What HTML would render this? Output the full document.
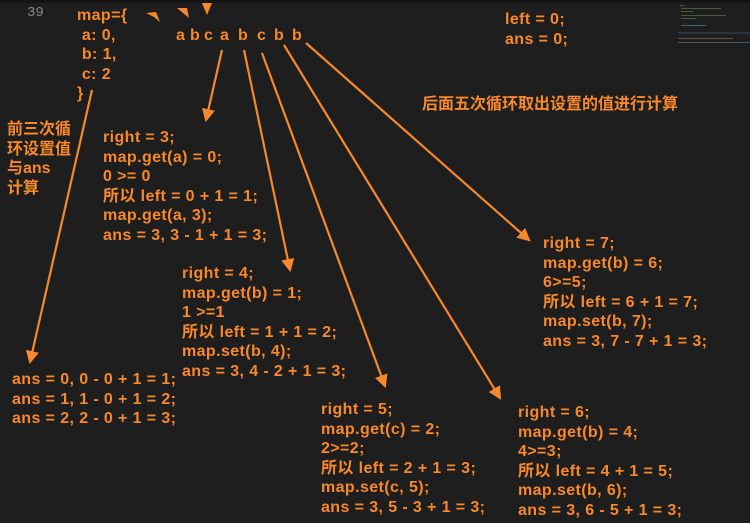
<!DOCTYPE html>
<html><head><meta charset="utf-8"><style>
body{margin:0;width:750px;height:523px;background:#1e1e1e;overflow:hidden;position:relative;font-family:"Liberation Sans","Noto Sans CJK SC",sans-serif;}
.t{position:absolute;color:#f7882b;font-weight:bold;font-size:16px;letter-spacing:0.4px;line-height:19.5px;white-space:pre;}
.c{position:absolute;color:#f7882b;font-weight:bold;font-size:16px;top:26px;line-height:19.5px;}
.top{position:absolute;left:0;top:0;width:750px;height:3px;background:#141414;}
.ln{position:absolute;left:27px;top:5px;color:#8a8a8a;font-family:"Liberation Mono",monospace;font-size:14px;}
.mm{position:absolute;height:1px;background:#4a5a40;}
</style></head><body>
<div class="top"></div>
<div class="ln">39</div>
<div class="mm" style="left:680px;top:5px;width:4px"></div>
<div class="mm" style="left:681px;top:8px;width:40px"></div>
<div class="mm" style="left:681px;top:11px;width:12px"></div>
<div class="mm" style="left:681px;top:15px;width:45px"></div>
<div class="mm" style="left:681px;top:18px;width:15px"></div>
<div class="mm" style="left:681px;top:25px;width:25px;background:#3a6a70"></div>
<div class="mm" style="left:678px;top:32px;width:72px;height:2px;background:#2a3440"></div>
<div class="mm" style="left:678px;top:38px;width:55px;background:#5a5050"></div>
<div class="mm" style="left:678px;top:42px;width:72px;background:#4a5a5a"></div>
<div class="t" style="left:77px;top:6px">map={
 a: 0,
 b: 1,
 c: 2
}</div>
<div class="c" style="left:176px">a</div>
<div class="c" style="left:190px">b</div>
<div class="c" style="left:204px">c</div>
<div class="c" style="left:220px">a</div>
<div class="c" style="left:238px">b</div>
<div class="c" style="left:257px">c</div>
<div class="c" style="left:274px">b</div>
<div class="c" style="left:292px">b</div>
<div class="t" style="left:505px;top:10px">left = 0;
ans = 0;</div>
<div class="t" style="left:422px;top:95px;letter-spacing:0">后面五次循环取出设置的值进行计算</div>
<div class="t" style="left:7px;top:120px;letter-spacing:0">前三次循
环设置值
与ans
计算</div>
<div class="t" style="left:103px;top:128px">right = 3;
map.get(a) = 0;
0 >= 0
所以 left = 0 + 1 = 1;
map.get(a, 3);
ans = 3, 3 - 1 + 1 = 3;</div>
<div class="t" style="left:182px;top:264px">right = 4;
map.get(b) = 1;
1 >=1
所以 left = 1 + 1 = 2;
map.set(b, 4);
ans = 3, 4 - 2 + 1 = 3;</div>
<div class="t" style="left:12px;top:370px">ans = 0, 0 - 0 + 1 = 1;
ans = 1, 1 - 0 + 1 = 2;
ans = 2, 2 - 0 + 1 = 3;</div>
<div class="t" style="left:321px;top:400px">right = 5;
map.get(c) = 2;
2>=2;
所以 left = 2 + 1 = 3;
map.set(c, 5);
ans = 3, 5 - 3 + 1 = 3;</div>
<div class="t" style="left:518px;top:403px">right = 6;
map.get(b) = 4;
4>=3;
所以 left = 4 + 1 = 5;
map.set(b, 6);
ans = 3, 6 - 5 + 1 = 3;</div>
<div class="t" style="left:543px;top:234px">right = 7;
map.get(b) = 6;
6>=5;
所以 left = 6 + 1 = 7;
map.set(b, 7);
ans = 3, 7 - 7 + 1 = 3;</div>
<svg width="750" height="523" style="position:absolute;left:0;top:0">
<defs><marker id="m" markerWidth="6" markerHeight="6" refX="5" refY="3" orient="auto" markerUnits="strokeWidth"><path d="M0,0 L6,3 L0,6 z" fill="#f7882b"/></marker></defs>
<g stroke="#f7882b" stroke-width="2.2" fill="none" marker-end="url(#m)">
<line x1="92" y1="90" x2="30" y2="362"/>
<line x1="222" y1="50" x2="206" y2="120"/>
<line x1="244" y1="50" x2="290" y2="270"/>
<line x1="262" y1="53" x2="385" y2="386"/>
<line x1="284" y1="45" x2="500" y2="398"/>
<line x1="306" y1="43" x2="529" y2="240"/>
</g>
<g fill="#f7882b">
<polygon points="146,13 156,12 160,22 154,17"/>
<polygon points="177,8 187,8 189,18 183,13"/>
<polygon points="202,3 212,3 207,15"/>
</g>
</svg>
</body></html>
